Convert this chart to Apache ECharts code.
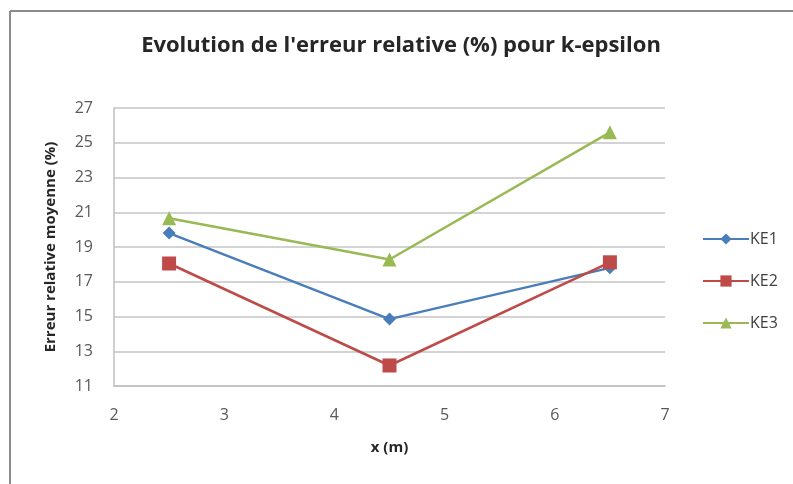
<!DOCTYPE html>
<html>
<head>
<meta charset="utf-8">
<script src="https://cdn.jsdelivr.net/npm/echarts@6/dist/echarts.min.js"></script>
<style>
html,body{margin:0;padding:0;background:#fff;}
#chart{width:793px;height:484px;}
</style>
</head>
<body>
<div id="chart"></div>
<script>
// Positions along the channel (m)
const positions = [2.5, 4.5, 6.5];
// Mean relative error (%) for each k-epsilon variant
const ke1 = [19.8, 14.85, 17.8];
const ke2 = [18.05, 12.18, 18.12];
const ke3 = [20.66, 18.28, 25.6];
const seriesNames = ['KE1', 'KE2', 'KE3'];

const pair = (xs, ys) => xs.map((x, i) => [x, ys[i]]);

const chart = echarts.init(document.getElementById('chart'), null, {renderer: 'canvas'});
const font = '"Open Sans", "Liberation Sans", sans-serif';

chart.setOption({
  backgroundColor: '#ffffff',
  animation: false,
  title: {
    text: "Evolution de l'erreur relative (%) pour k-epsilon",
    left: 396, top: 30, textAlign: 'center',
    textStyle: {fontFamily: font, fontSize: 22, fontWeight: 'bold', color: '#262626'}
  },
  graphic: [
    {type: 'line', shape: {x1: 10, y1: 11, x2: 793, y2: 11}, style: {stroke: '#8c8c8c', lineWidth: 2}},
    {type: 'line', shape: {x1: 10, y1: 11, x2: 10, y2: 484}, style: {stroke: '#8c8c8c', lineWidth: 2}}
  ],
  legend: {
    orient: 'vertical', left: 697, top: 226, itemGap: 26,
    itemWidth: 46, itemHeight: 14,
    textStyle: {fontFamily: font, fontSize: 16, color: '#404040', padding: [0, 0, 0, -4]},
    data: seriesNames
  },
  grid: {left: 114, right: 128, top: 108, bottom: 98},
  xAxis: {
    type: 'value', min: 2, max: 7, interval: 1,
    name: 'x (m)', nameLocation: 'middle', nameGap: 54,
    nameTextStyle: {fontFamily: font, fontSize: 15, fontWeight: 'bold', color: '#262626'},
    axisLine: {show: true, lineStyle: {color: '#bfbfbf', width: 1.5}},
    axisTick: {show: false},
    splitLine: {show: false},
    axisLabel: {fontFamily: font, fontSize: 16, color: '#595959', margin: 21}
  },
  yAxis: {
    type: 'value', min: 11, max: 27, interval: 2,
    name: 'Erreur relative moyenne (%)', nameLocation: 'middle', nameGap: 56,
    nameTextStyle: {fontFamily: font, fontSize: 15, fontWeight: 'bold', color: '#262626'},
    axisLine: {show: true, lineStyle: {color: '#bfbfbf', width: 1.5}},
    axisTick: {show: false},
    splitLine: {show: true, lineStyle: {color: '#c4c4c4', width: 1.5}},
    axisLabel: {fontFamily: font, fontSize: 16, color: '#595959', margin: 21}
  },
  series: [
    {name: 'KE1', type: 'line', data: pair(positions, ke1), symbol: 'diamond', symbolSize: 13,
     lineStyle: {color: '#4a7ebb', width: 2.5}, itemStyle: {color: '#4a7ebb'}},
    {name: 'KE2', type: 'line', data: pair(positions, ke2), symbol: 'rect', symbolSize: 14,
     lineStyle: {color: '#be4b48', width: 2.5}, itemStyle: {color: '#be4b48'}},
    {name: 'KE3', type: 'line', data: pair(positions, ke3), symbol: 'triangle', symbolSize: 14,
     lineStyle: {color: '#98b954', width: 2.5}, itemStyle: {color: '#98b954'}}
  ]
});
</script>
</body>
</html>
